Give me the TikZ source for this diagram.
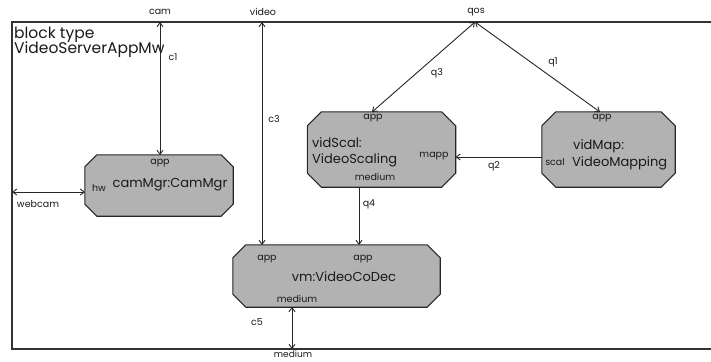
\documentclass[tikz,border=0pt]{standalone}
\usepackage{fontspec}
\setmainfont{Poppins}
\usetikzlibrary{arrows.meta,calc}
\newcommand\octobox[6]{% name, cx, cy, w, h, chamfer
  \node[draw=none, minimum width=#4pt, minimum height=#5pt, inner sep=0pt] (#1) at (#2,#3) {};
  \draw[boxstyle] ($(#1.north west)+(#6,0)$) -- ($(#1.north east)+(-#6,0)$) -- ($(#1.north east)+(0,#6)$)
    -- ($(#1.south east)+(0,-#6)$) -- ($(#1.south east)+(-#6,0)$) -- ($(#1.south west)+(#6,0)$)
    -- ($(#1.south west)+(0,-#6)$) -- ($(#1.north west)+(0,#6)$) -- cycle;}
\begin{document}
\begin{tikzpicture}[x=1pt,y=-1pt,
  boxstyle/.style={draw=black!85, fill=black!30, line width=1.1pt},
  big/.style={font=\fontsize{13}{15}\selectfont, inner sep=0pt, text=black!90},
  title/.style={font=\fontsize{15.5}{17}\selectfont, inner sep=0pt, text=black!90},
  small/.style={font=\fontsize{9.5}{11}\selectfont, inner sep=0pt, text=black!90},
  tip/.style={-{Straight Barb[length=4pt,width=6pt]}},
  tips/.style={{Straight Barb[length=4pt,width=6pt]}-{Straight Barb[length=4pt,width=6pt]}},
  conn/.style={draw=black!85, line width=0.9pt}
]
\useasboundingbox (0,0) rectangle (711,361);
% frame
\draw[black!80, line width=1.1pt] (720,22) -- (12,22) -- (12,349) -- (720,349);
\node[title, anchor=west] (t1) at (14,35) {block type};
\node[title, anchor=west] (t2) at (14,50) {VideoServerAppMw};

% boxes
\octobox{camMgr}{159}{185.5}{148}{61}{12}
\octobox{vidScal}{381.5}{149.5}{148}{75}{14}
\octobox{vidMap}{608.5}{149.5}{133}{75}{14}
\octobox{vm}{336.5}{276}{207}{62}{13}

% box texts
\node[big] (camMgrT) at (170,185) {camMgr:CamMgr};
\node[big, anchor=west] (vidScalT1) at (312,143) {vidScal:};
\node[big, anchor=west] (vidScalT2) at (312,160) {VideoScaling};
\node[big, anchor=west] (vidMapT1) at (573,146) {vidMap:};
\node[big, anchor=west] (vidMapT2) at (572,163) {VideoMapping};
\node[big] (vmT) at (344,277) {vm:VideoCoDec};

% port labels
\node[small] (pCamApp) at (160,163) {app};
\node[small] (pHw) at (99,188) {hw};
\node[small] (pScApp) at (373,118) {app};
\node[small] (pMapp) at (434,156) {mapp};
\node[small] (pMed1) at (375,177) {medium};
\node[small] (pMapApp) at (602,118) {app};
\node[small] (pScal) at (555,162) {scal};
\node[small] (pVmApp1) at (267,259) {app};
\node[small] (pVmApp2) at (363,259) {app};
\node[small] (pVmMed) at (297,299) {medium};

% outer ports
\coordinate (cam) at (160,22);
\coordinate (video) at (262,22);
\coordinate (qos) at (475,22);
\coordinate (webcam) at (12,192);
\coordinate (medium) at (292,349);
\coordinate (camTop) at (160,155);
\coordinate (camLeft) at (85,192);
\coordinate (vmTop1) at (262,245);
\coordinate (vmTop2) at (359,245);
\coordinate (vmBot) at (292,307);
\coordinate (scTop) at (372,112);
\coordinate (scRight) at (455.5,157);
\coordinate (scBot) at (359,187);
\coordinate (mapTop) at (600,112);
\coordinate (mapLeft) at (542,157);

\node[small] (lcam) at (160,12) {cam};
\node[small] (lvideo) at (263,12) {video};
\node[small] (lqos) at (476,12) {qos};
\node[small] (lwebcam) at (38,204) {webcam};
\node[small, font=\fontsize{9}{10}\selectfont, anchor=base] (lmedium) at (293,357.5) {medium};

% connectors
\draw[conn, tips] (cam) -- (camTop);
\draw[conn, tips] (video) -- (vmTop1);
\draw[conn, tips] (webcam) -- (camLeft);
\draw[conn, tips] (qos) -- (scTop);
\draw[conn, tips] (qos) -- (mapTop);
\draw[conn, tip] (mapLeft) -- (scRight);
\draw[conn, tip] (scBot) -- (vmTop2);
\draw[conn, tips] (vmBot) -- (medium);

% connector labels
\node[small] (c1) at (173,57) {c1};
\node[small] (c3) at (274,119) {c3};
\node[small] (q3) at (437,73) {q3};
\node[small] (q1) at (553,62) {q1};
\node[small] (q2) at (494,166) {q2};
\node[small] (q4) at (369,204) {q4};
\node[small] (c5) at (257,322) {c5};
\end{tikzpicture}
\end{document}
